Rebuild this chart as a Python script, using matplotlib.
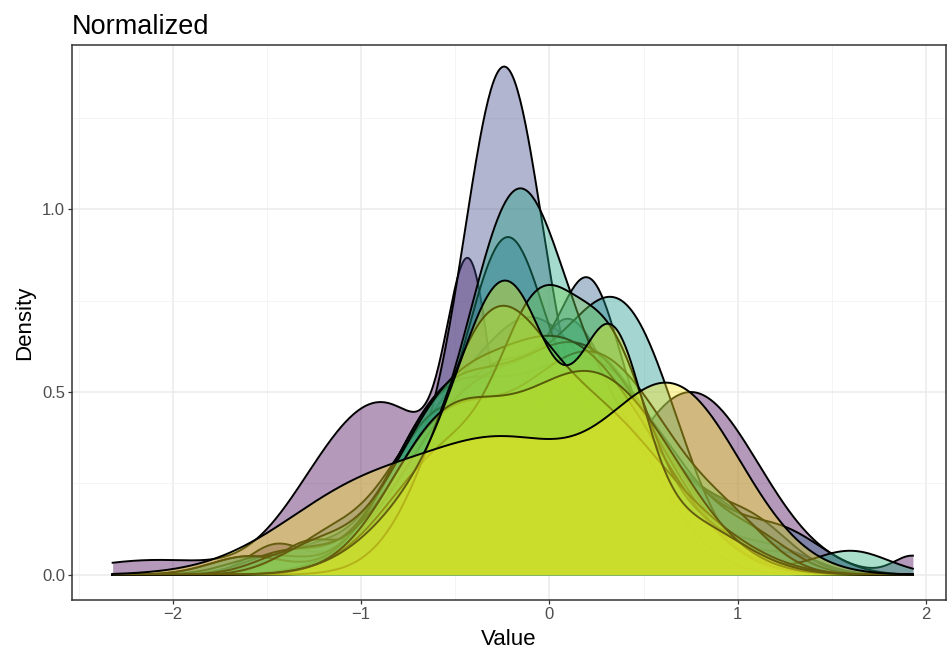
import numpy as np
import matplotlib
matplotlib.use("Agg")
import matplotlib.pyplot as plt
from matplotlib.ticker import MultipleLocator

plt.rcParams["font.family"] = ["Liberation Sans", "DejaVu Sans"]

# density modes of each group: centre, spread, height
group_centres = [
    [-2.1, -1.25, -0.85, -0.42, 0.75, 1.93],
    [-1.45, -0.55, 0.0, 0.35, 1.0],
    [-1.3, -0.55, 0.05, 0.4],
    [-1.6, -0.55, -0.1, 0.35, 1.2],
    [-0.7, -0.24, 0.4, 1.3],
    [-1.2, -0.55, 0.07, 0.45, 1.1],
    [-0.45, -0.1, 0.22, 0.55, 1.25],
    [-1.3, -0.5, -0.22, 0.35],
    [-1.4, -0.55, 0.0, 0.4],
    [-1.5, -0.55, 0.1, 0.5, 1.1],
    [-0.45, 0.0, 0.42],
    [-0.55, -0.17, 0.3],
    [-1.6, -0.55, 0.0, 0.35, 1.6],
    [-1.35, -0.55, 0.05, 0.45, 1.0],
    [-1.25, -0.55, -0.05, 0.35],
    [-0.5, -0.05, 0.32, 0.7],
    [-0.3, 0.3, 0.8],
    [-0.55, 0.0, 0.4],
    [-0.55, -0.2, 0.33, 0.7],
    [-0.95, -0.2, 0.66],
]
group_spreads = [
    [0.35, 0.25, 0.32, 0.12, 0.36, 0.1],
    [0.15, 0.3, 0.3, 0.35, 0.2],
    [0.2, 0.3, 0.3, 0.35],
    [0.2, 0.3, 0.25, 0.35, 0.2],
    [0.3, 0.21, 0.38, 0.15],
    [0.2, 0.3, 0.2, 0.35, 0.2],
    [0.35, 0.25, 0.16, 0.33, 0.22],
    [0.15, 0.35, 0.2, 0.35],
    [0.2, 0.3, 0.3, 0.33],
    [0.2, 0.3, 0.25, 0.3, 0.2],
    [0.35, 0.3, 0.28],
    [0.35, 0.24, 0.3],
    [0.2, 0.3, 0.3, 0.35, 0.2],
    [0.2, 0.3, 0.3, 0.33, 0.2],
    [0.2, 0.3, 0.3, 0.35],
    [0.33, 0.2, 0.2, 0.3],
    [0.3, 0.3, 0.3],
    [0.3, 0.3, 0.35],
    [0.33, 0.24, 0.17, 0.3],
    [0.45, 0.38, 0.36],
]
group_heights = [
    [0.04, 0.1, 0.44, 0.68, 0.5, 0.05],
    [0.08, 0.45, 0.3, 0.4, 0.1],
    [0.06, 0.45, 0.35, 0.35],
    [0.05, 0.4, 0.4, 0.4, 0.06],
    [0.22, 1.25, 0.3, 0.04],
    [0.08, 0.45, 0.45, 0.35, 0.1],
    [0.42, 0.25, 0.45, 0.3, 0.1],
    [0.07, 0.3, 0.6, 0.4],
    [0.06, 0.45, 0.3, 0.4],
    [0.05, 0.45, 0.35, 0.35, 0.08],
    [0.42, 0.25, 0.62],
    [0.25, 0.8, 0.4],
    [0.05, 0.45, 0.3, 0.4, 0.065],
    [0.06, 0.4, 0.35, 0.38, 0.08],
    [0.07, 0.42, 0.35, 0.38],
    [0.35, 0.55, 0.5, 0.15],
    [0.68, 0.35, 0.1],
    [0.4, 0.25, 0.4],
    [0.25, 0.65, 0.55, 0.15],
    [0.24, 0.29, 0.5],
]
value_min, value_max = -2.32, 1.93

x = np.linspace(value_min, value_max, 600)
colors = plt.cm.viridis(np.linspace(0, 1, len(group_centres)))

fig = plt.figure(figsize=(9.47, 6.55), dpi=100)
ax = fig.add_axes([0.076, 0.084, 0.923, 0.847])

for i, (cs, ss, hs) in enumerate(zip(group_centres, group_spreads, group_heights)):
    y = np.zeros_like(x)
    for c, s, h in zip(cs, ss, hs):
        y += h * np.exp(-(x - c) ** 2 / (2 * s ** 2))
    ax.fill_between(x, 0, y, color=colors[i], alpha=0.4, linewidth=0, zorder=2 + 2 * i)
    ax.plot(x, y, color="black", linewidth=1.4, zorder=3 + 2 * i)

ax.set_xlim(-2.536, 2.106)
ax.set_ylim(-0.069, 1.449)
ax.xaxis.set_major_locator(MultipleLocator(1))
ax.xaxis.set_minor_locator(MultipleLocator(0.5))
ax.yaxis.set_major_locator(MultipleLocator(0.5))
ax.yaxis.set_minor_locator(MultipleLocator(0.25))
ax.yaxis.set_major_formatter(lambda v, p: f"{v:.1f}")

ax.grid(which="major", color="#EBEBEB", linewidth=1.1, zorder=0)
ax.grid(which="minor", color="#F2F2F2", linewidth=0.6, zorder=0)
ax.set_axisbelow(True)
for sp in ax.spines.values():
    sp.set_color("#333333")
    sp.set_linewidth(1.1)
ax.tick_params(which="major", length=3, width=0.9, color="#333333", pad=2,
               labelsize=12, labelcolor="#4D4D4D")
ax.tick_params(which="minor", length=0)

ax.set_xlabel("Value", fontsize=16, labelpad=5)
ax.set_ylabel("Density", fontsize=16, labelpad=5)
ax.set_title("Normalized", loc="left", fontsize=19.5, pad=8)

fig.savefig("out.png", dpi=100)
